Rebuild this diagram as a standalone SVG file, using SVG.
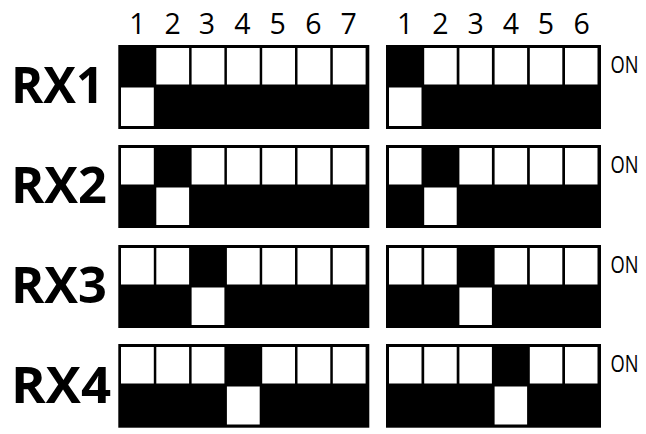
<svg xmlns="http://www.w3.org/2000/svg" width="646" height="434" viewBox="0 0 646 434">
<style>
.bg{fill:#000}
.w{fill:#fff}
.num{font-family:"Open Sans","Liberation Sans",sans-serif;font-size:28.5px;fill:#000;text-anchor:middle}
.rx{font-family:"Open Sans","Liberation Sans",sans-serif;font-size:50px;font-weight:bold;fill:#000}
.on{font-family:"Open Sans","Liberation Sans",sans-serif;font-size:23px;fill:#000}
</style>
<rect width="646" height="434" fill="#fff"/>
<g id="header-left">
<text class="num" x="137.4" y="34.3">1</text>
<text class="num" x="172.7" y="34.3">2</text>
<text class="num" x="207" y="34.3">3</text>
<text class="num" x="242.3" y="34.3">4</text>
<text class="num" x="277.6" y="34.3">5</text>
<text class="num" x="313.4" y="34.3">6</text>
<text class="num" x="348.7" y="34.3">7</text>
</g>
<g id="header-right">
<text class="num" x="405.2" y="34.3">1</text>
<text class="num" x="440.4" y="34.3">2</text>
<text class="num" x="475.6" y="34.3">3</text>
<text class="num" x="510.8" y="34.3">4</text>
<text class="num" x="546" y="34.3">5</text>
<text class="num" x="581.7" y="34.3">6</text>
</g>

<g id="rx1">
<text class="rx" x="11" y="103.3" textLength="93" lengthAdjust="spacingAndGlyphs">RX1</text>
<g id="rx1-left">
<rect class="bg" x="118.3" y="45" width="251" height="84"/>
<rect class="w" x="156.3" y="48" width="32.8" height="36.5"/>
<rect class="w" x="191.6" y="48" width="32.8" height="36.5"/>
<rect class="w" x="226.9" y="48" width="32.8" height="36.5"/>
<rect class="w" x="262.2" y="48" width="32.8" height="36.5"/>
<rect class="w" x="297.5" y="48" width="32.8" height="36.5"/>
<rect class="w" x="332.8" y="48" width="32.8" height="36.5"/>
<rect class="w" x="121" y="87.5" width="32.8" height="38.5"/>
</g>
<g id="rx1-right">
<rect class="bg" x="386" y="45" width="215" height="84"/>
<rect class="w" x="424.2" y="48" width="32.5" height="36.5"/>
<rect class="w" x="459.4" y="48" width="32.5" height="36.5"/>
<rect class="w" x="494.6" y="48" width="32.5" height="36.5"/>
<rect class="w" x="529.8" y="48" width="32.5" height="36.5"/>
<rect class="w" x="565" y="48" width="32.5" height="36.5"/>
<rect class="w" x="389" y="87.5" width="32.5" height="38.5"/>
</g>
<text class="on" x="610.5" y="72.7" textLength="28" lengthAdjust="spacingAndGlyphs">ON</text>
</g>

<g id="rx2">
<text class="rx" x="11" y="203.3" textLength="96" lengthAdjust="spacingAndGlyphs">RX2</text>
<g id="rx2-left">
<rect class="bg" x="118.3" y="145" width="251" height="83"/>
<rect class="w" x="121" y="148" width="32.8" height="36.5"/>
<rect class="w" x="191.6" y="148" width="32.8" height="36.5"/>
<rect class="w" x="226.9" y="148" width="32.8" height="36.5"/>
<rect class="w" x="262.2" y="148" width="32.8" height="36.5"/>
<rect class="w" x="297.5" y="148" width="32.8" height="36.5"/>
<rect class="w" x="332.8" y="148" width="32.8" height="36.5"/>
<rect class="w" x="156.3" y="187.5" width="32.8" height="37.5"/>
</g>
<g id="rx2-right">
<rect class="bg" x="386" y="145" width="215" height="83"/>
<rect class="w" x="389" y="148" width="32.5" height="36.5"/>
<rect class="w" x="459.4" y="148" width="32.5" height="36.5"/>
<rect class="w" x="494.6" y="148" width="32.5" height="36.5"/>
<rect class="w" x="529.8" y="148" width="32.5" height="36.5"/>
<rect class="w" x="565" y="148" width="32.5" height="36.5"/>
<rect class="w" x="424.2" y="187.5" width="32.5" height="37.5"/>
</g>
<text class="on" x="610.5" y="172.5" textLength="28" lengthAdjust="spacingAndGlyphs">ON</text>
</g>

<g id="rx3">
<text class="rx" x="11" y="303" textLength="96" lengthAdjust="spacingAndGlyphs">RX3</text>
<g id="rx3-left">
<rect class="bg" x="118.3" y="245" width="251" height="83"/>
<rect class="w" x="121" y="248" width="32.8" height="36.5"/>
<rect class="w" x="156.3" y="248" width="32.8" height="36.5"/>
<rect class="w" x="226.9" y="248" width="32.8" height="36.5"/>
<rect class="w" x="262.2" y="248" width="32.8" height="36.5"/>
<rect class="w" x="297.5" y="248" width="32.8" height="36.5"/>
<rect class="w" x="332.8" y="248" width="32.8" height="36.5"/>
<rect class="w" x="191.6" y="287.5" width="32.8" height="37.5"/>
</g>
<g id="rx3-right">
<rect class="bg" x="386" y="245" width="215" height="83"/>
<rect class="w" x="389" y="248" width="32.5" height="36.5"/>
<rect class="w" x="424.2" y="248" width="32.5" height="36.5"/>
<rect class="w" x="494.6" y="248" width="32.5" height="36.5"/>
<rect class="w" x="529.8" y="248" width="32.5" height="36.5"/>
<rect class="w" x="565" y="248" width="32.5" height="36.5"/>
<rect class="w" x="459.4" y="287.5" width="32.5" height="37.5"/>
</g>
<text class="on" x="610.5" y="272.5" textLength="28" lengthAdjust="spacingAndGlyphs">ON</text>
</g>

<g id="rx4">
<text class="rx" x="11" y="402.7" textLength="100" lengthAdjust="spacingAndGlyphs">RX4</text>
<g id="rx4-left">
<rect class="bg" x="118.3" y="344" width="251" height="83.7"/>
<rect class="w" x="121" y="347" width="32.8" height="36.5"/>
<rect class="w" x="156.3" y="347" width="32.8" height="36.5"/>
<rect class="w" x="191.6" y="347" width="32.8" height="36.5"/>
<rect class="w" x="262.2" y="347" width="32.8" height="36.5"/>
<rect class="w" x="297.5" y="347" width="32.8" height="36.5"/>
<rect class="w" x="332.8" y="347" width="32.8" height="36.5"/>
<rect class="w" x="226.9" y="386.5" width="32.8" height="38"/>
</g>
<g id="rx4-right">
<rect class="bg" x="386" y="344" width="215" height="83.7"/>
<rect class="w" x="389" y="347" width="32.5" height="36.5"/>
<rect class="w" x="424.2" y="347" width="32.5" height="36.5"/>
<rect class="w" x="459.4" y="347" width="32.5" height="36.5"/>
<rect class="w" x="529.8" y="347" width="32.5" height="36.5"/>
<rect class="w" x="565" y="347" width="32.5" height="36.5"/>
<rect class="w" x="494.6" y="386.5" width="32.5" height="38"/>
</g>
<text class="on" x="610.5" y="371.5" textLength="28" lengthAdjust="spacingAndGlyphs">ON</text>
</g>
</svg>
